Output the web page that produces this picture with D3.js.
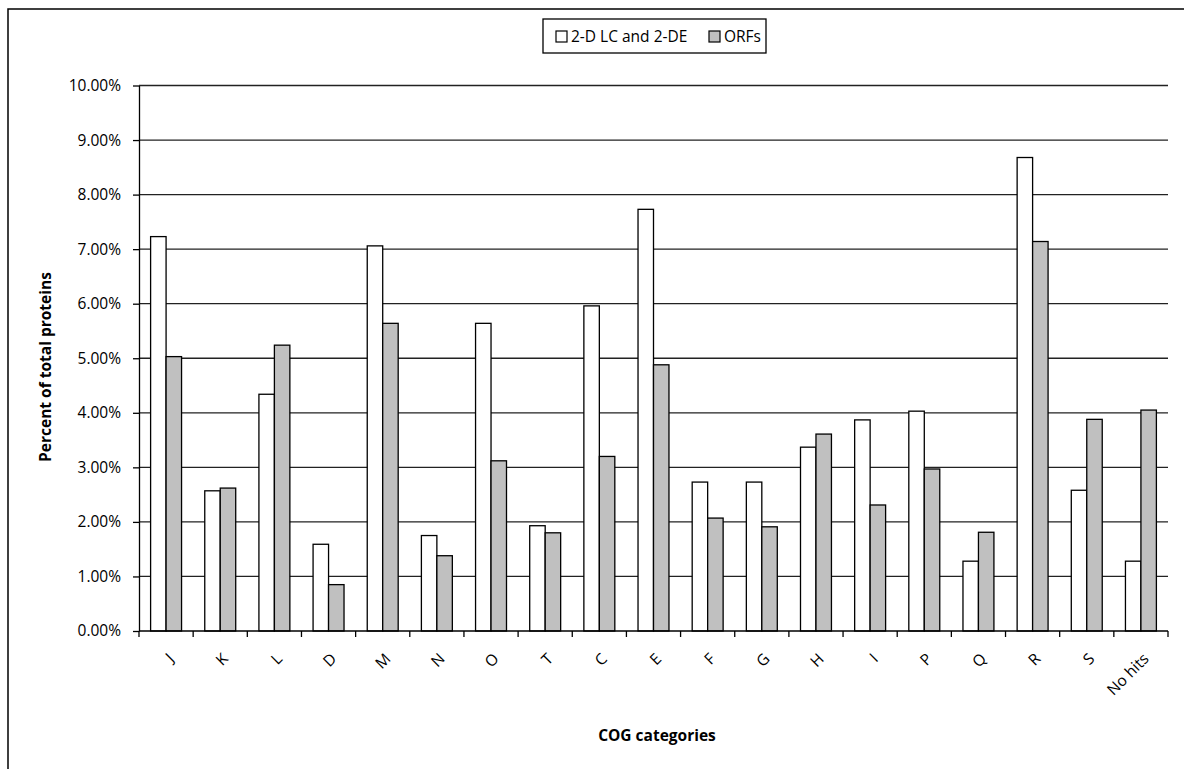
<!DOCTYPE html>
<html>
<head>
<meta charset="utf-8">
<script src="https://cdn.jsdelivr.net/npm/d3@7"></script>
<style>
  body { margin: 0; background: #fff; }
  text { font-family: "Open Sans", "Noto Sans", sans-serif; fill: #000; }
  .grid line { stroke: #222; stroke-width: 1.3; }
  .axis path, .axis line { stroke: #000; stroke-width: 1.3; }
</style>
</head>
<body>
<div id="chart"></div>
<script>
// COG categories and the two series (percent of total proteins)
var categories = ["J", "K", "L", "D", "M", "N", "O", "T", "C", "E", "F", "G", "H", "I", "P", "Q", "R", "S", "No hits"];
var lcValues  = [7.23, 2.57, 4.34, 1.59, 7.06, 1.75, 5.64, 1.93, 5.96, 7.73, 2.73, 2.73, 3.37, 3.87, 4.03, 1.28, 8.68, 2.58, 1.28];
var orfValues = [5.03, 2.62, 5.24, 0.85, 5.64, 1.38, 3.12, 1.80, 3.20, 4.88, 2.07, 1.91, 3.61, 2.31, 2.97, 1.81, 7.14, 3.88, 4.05];
var seriesNames = ["2-D LC and 2-DE", "ORFs"];
var seriesColors = ["#ffffff", "#c0c0c0"];
var yTicks = [0, 1, 2, 3, 4, 5, 6, 7, 8, 9, 10];

var W = 1184, H = 769;
var plot = { left: 139, right: 1168, top: 85.5, bottom: 631 };

var svg = d3.select("#chart").append("svg")
    .attr("width", W)
    .attr("height", H);

// outer frame (right and bottom edge fall outside the picture)
svg.append("rect")
    .attr("x", 8).attr("y", 9)
    .attr("width", W + 20).attr("height", H + 20)
    .attr("fill", "none")
    .attr("stroke", "#000")
    .attr("stroke-width", 1.5);

var x0 = d3.scaleBand()
    .domain(categories)
    .range([plot.left, plot.right]);

var bw = x0.bandwidth();
var barW = bw / 3.5; // gap width 150%
var x1 = d3.scaleBand()
    .domain(seriesNames)
    .range([barW * 0.75, barW * 2.75]);

var y = d3.scaleLinear()
    .domain([0, 10])
    .range([plot.bottom, plot.top]);

// gridlines
svg.append("g")
    .attr("class", "grid")
    .selectAll("line")
    .data(yTicks.slice(1))
  .enter().append("line")
    .attr("x1", plot.left)
    .attr("x2", plot.right)
    .attr("y1", function(d) { return y(d); })
    .attr("y2", function(d) { return y(d); });

var rows = categories.map(function(c, i) {
    return { cat: c, values: [lcValues[i], orfValues[i]] };
});

// bars
var groups = svg.append("g").selectAll("g")
    .data(rows)
  .enter().append("g")
    .attr("transform", function(d) { return "translate(" + x0(d.cat) + ",0)"; });

groups.selectAll("rect")
    .data(function(d) { return d.values.map(function(v, j) { return { name: seriesNames[j], value: v, j: j }; }); })
  .enter().append("rect")
    .attr("x", function(d) { return x1(d.name); })
    .attr("width", x1.bandwidth())
    .attr("y", function(d) { return y(d.value); })
    .attr("height", function(d) { return y(0) - y(d.value); })
    .attr("fill", function(d) { return seriesColors[d.j]; })
    .attr("stroke", "#000")
    .attr("stroke-width", 1.3);

// y axis
var yAxis = svg.append("g")
    .attr("class", "axis")
    .attr("transform", "translate(" + plot.left + ",0)")
    .call(d3.axisLeft(y)
        .tickValues(yTicks)
        .tickSize(6)
        .tickPadding(12)
        .tickSizeOuter(0)
        .tickFormat(function(d) { return d3.format(".2f")(d) + "%"; }));
yAxis.selectAll("text")
    .style("font-size", "15.5px");

// x axis line + ticks at category boundaries
var xAxis = svg.append("g")
    .attr("class", "axis");
xAxis.append("line")
    .attr("x1", plot.left).attr("x2", plot.right)
    .attr("y1", plot.bottom).attr("y2", plot.bottom);
xAxis.selectAll(".tk")
    .data(categories.concat(["end"]))
  .enter().append("line")
    .attr("class", "tk")
    .attr("x1", function(d, i) { return plot.left + i * bw; })
    .attr("x2", function(d, i) { return plot.left + i * bw; })
    .attr("y1", plot.bottom)
    .attr("y2", plot.bottom + 6);

xAxis.selectAll(".lbl")
    .data(categories)
  .enter().append("text")
    .attr("class", "lbl")
    .attr("transform", function(d) {
        return "translate(" + (x0(d) + bw / 2 + 5) + "," + (plot.bottom + 25) + ") rotate(-45)";
    })
    .attr("text-anchor", "end")
    .attr("dy", "0.35em")
    .style("font-size", "15.5px")
    .text(function(d) { return d; });

// axis titles
svg.append("text")
    .attr("transform", "translate(51,367) rotate(-90)")
    .attr("text-anchor", "middle")
    .style("font-size", "15.5px")
    .style("font-weight", "bold")
    .text("Percent of total proteins");

svg.append("text")
    .attr("x", 657)
    .attr("y", 741)
    .attr("text-anchor", "middle")
    .style("font-size", "15.5px")
    .style("font-weight", "bold")
    .text("COG categories");

// legend
var legend = svg.append("g");
legend.append("rect")
    .attr("x", 543).attr("y", 19)
    .attr("width", 223).attr("height", 34)
    .attr("fill", "#fff")
    .attr("stroke", "#000")
    .attr("stroke-width", 1.3);

var legendX = [556, 709];
seriesNames.forEach(function(name, i) {
    legend.append("rect")
        .attr("x", legendX[i]).attr("y", 31)
        .attr("width", 11).attr("height", 11)
        .attr("fill", seriesColors[i])
        .attr("stroke", "#000")
        .attr("stroke-width", 1.2);
    legend.append("text")
        .attr("x", legendX[i] + 15)
        .attr("y", 42)
        .style("font-size", "15.5px")
        .text(name);
});
</script>
</body>
</html>
